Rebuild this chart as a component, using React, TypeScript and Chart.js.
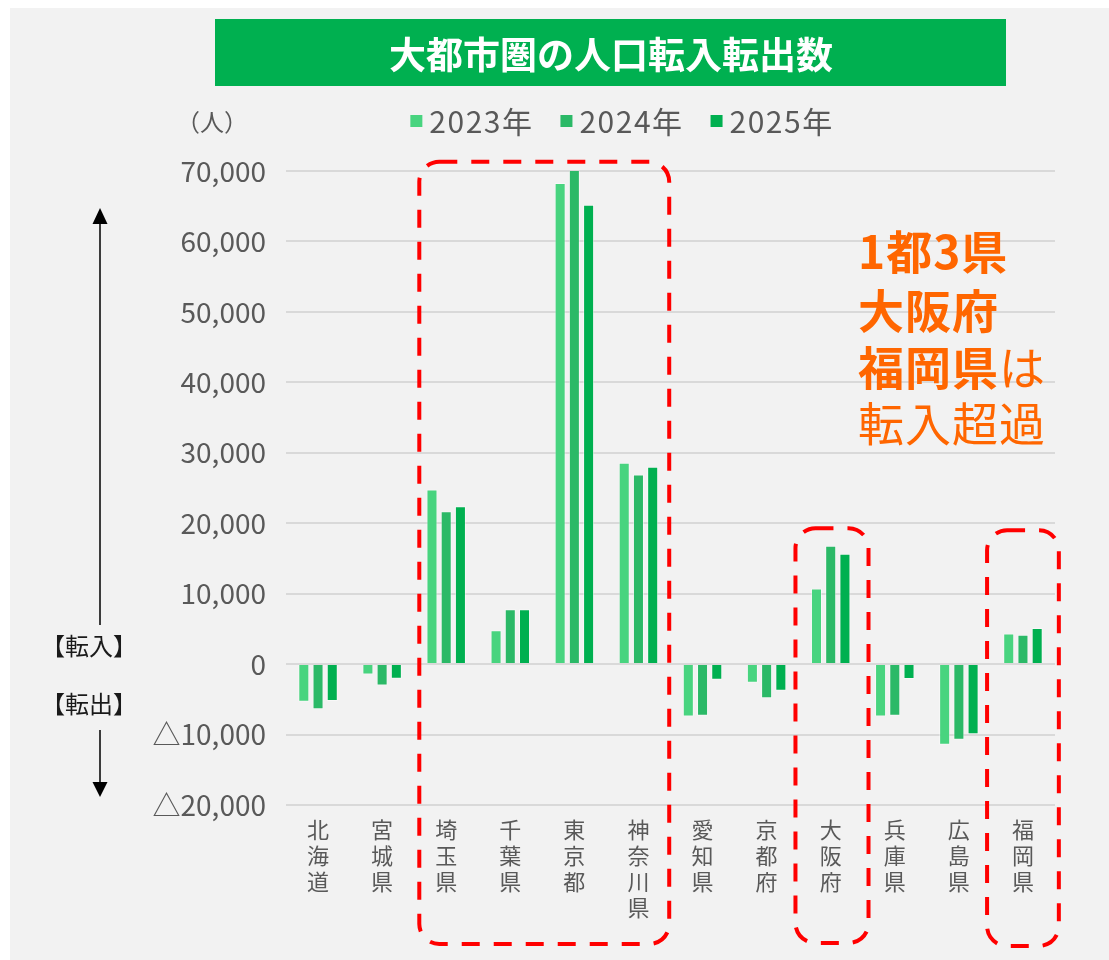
import React, { useEffect, useRef } from "react";
import { Chart, registerables } from "chart.js";

Chart.register(...registerables);

const categories = ["北海道", "宮城県", "埼玉県", "千葉県", "東京都", "神奈川県", "愛知県", "京都府", "大阪府", "兵庫県", "広島県", "福岡県"];
const seriesLabels = ["2023年", "2024年", "2025年"];
const values2023 = [-5350, -1460, 24800, 4790, 68300, 28600, -7430, -2650, 10750, -7430, -11450, 4360];
const values2024 = [-6400, -3030, 21700, 7800, 70200, 26900, -7330, -4830, 16800, -7330, -10740, 4170];
const values2025 = [-5250, -2080, 22400, 7800, 65200, 28000, -2220, -3790, 15680, -2130, -9940, 5110];
const yMin = -20000;
const yMax = 70000;
const yStep = 10000;
const titleText = "大都市圏の人口転入転出数";
const unitText = "（人）";
const inText = "【転入】";
const outText = "【転出】";
// highlighted category ranges [from, to] and the value at which their box starts
const highlightFrom = [2, 8, 11];
const highlightTo = [5, 8, 11];
const highlightTopValue = [71300, 19300, 19000];

const seriesColors = ["#48D47F", "#2BB967", "#00B050"];
const FONT = "'Noto Sans CJK JP', 'Noto Sans', sans-serif";

const decoPlugin = {
  id: "deco",
  beforeDraw(chart: any) {
    const ctx = chart.ctx;
    ctx.save();
    ctx.fillStyle = "#ffffff";
    ctx.fillRect(0, 0, chart.width, chart.height);
    ctx.fillStyle = "#F2F2F2";
    ctx.fillRect(10, 8, chart.width - 10, chart.height - 8);
    // title box
    ctx.fillStyle = "#00B050";
    ctx.fillRect(215, 19, 791, 67);
    ctx.fillStyle = "#ffffff";
    ctx.font = `bold 37px ${FONT}`;
    ctx.textAlign = "center";
    ctx.textBaseline = "middle";
    ctx.fillText(titleText, 611, 55);
    // unit
    ctx.fillStyle = "#595959";
    ctx.font = `24px ${FONT}`;
    ctx.fillText(unitText, 212, 122);
    // legend
    ctx.font = `30px ${FONT}`;
    (ctx as any).letterSpacing = "1.5px";
    const widths = seriesLabels.map((l) => ctx.measureText(l).width);
    const box = 12, gapBT = 7, gapItem = 27;
    let total = 0;
    widths.forEach((w, i) => { total += box + gapBT + w + (i < widths.length - 1 ? gapItem : 0); });
    let x = 622 - total / 2;
    ctx.textAlign = "left";
    seriesLabels.forEach((l, i) => {
      ctx.fillStyle = seriesColors[i];
      ctx.fillRect(x, 115, box, box);
      ctx.fillStyle = "#595959";
      ctx.fillText(l, x + box + gapBT, 122);
      x += box + gapBT + widths[i] + gapItem;
    });
    (ctx as any).letterSpacing = "0px";
    // arrows and side labels
    ctx.strokeStyle = "#000000";
    ctx.fillStyle = "#000000";
    ctx.lineWidth = 1.5;
    ctx.beginPath();
    ctx.moveTo(100, 222);
    ctx.lineTo(100, 625);
    ctx.moveTo(100, 730);
    ctx.lineTo(100, 784);
    ctx.stroke();
    ctx.beginPath();
    ctx.moveTo(100, 208);
    ctx.lineTo(92.5, 224);
    ctx.lineTo(107.5, 224);
    ctx.closePath();
    ctx.fill();
    ctx.beginPath();
    ctx.moveTo(100, 797);
    ctx.lineTo(92.5, 782);
    ctx.lineTo(107.5, 782);
    ctx.closePath();
    ctx.fill();
    ctx.font = `24px ${FONT}`;
    ctx.textAlign = "center";
    ctx.fillStyle = "#1a1a1a";
    ctx.fillText(inText, 89, 646);
    ctx.fillText(outText, 89, 704);
    ctx.restore();
  },
  afterDraw(chart: any) {
    const ctx = chart.ctx;
    const xs = chart.scales.x;
    const ys = chart.scales.y;
    const area = chart.chartArea;
    const step = (area.right - area.left) / categories.length;
    ctx.save();
    ctx.strokeStyle = "#FF0000";
    ctx.lineWidth = 4;
    ctx.setLineDash([18, 14]);
    const padL = [0.42, 0.55, 0.56];
    const padR = [0.48, 0.59, 0.56];
    const bottoms = [139, 138, 141];
    highlightFrom.forEach((f, i) => {
      const left = xs.getPixelForValue(f) - padL[i] * step;
      const right = xs.getPixelForValue(highlightTo[i]) + padR[i] * step;
      const top = ys.getPixelForValue(highlightTopValue[i]);
      const bottom = area.bottom + bottoms[i];
      ctx.beginPath();
      (ctx as any).roundRect(left, top, right - left, bottom - top, 20);
      ctx.stroke();
    });
    ctx.setLineDash([]);
    // orange annotation
    ctx.fillStyle = "#FF6600";
    ctx.textAlign = "left";
    ctx.textBaseline = "middle";
    const tx = 858;
    ctx.font = `bold 46px ${FONT}`;
    (ctx as any).letterSpacing = "1px";
    ctx.fillText("1都3県", tx, 252);
    ctx.fillText("大阪府", tx, 311);
    ctx.fillText("福岡県", tx, 368);
    const w = ctx.measureText("福岡県").width;
    ctx.font = `46px ${FONT}`;
    ctx.fillText("は", tx + w, 368);
    ctx.fillText("転入超過", tx, 424);
    (ctx as any).letterSpacing = "0px";
    ctx.restore();
  },
};

export default function App() {
  const ref = useRef<HTMLCanvasElement | null>(null);
  useEffect(() => {
    if (!ref.current) return;
    const chart = new Chart(ref.current, {
      type: "bar",
      data: {
        labels: categories,
        datasets: [values2023, values2024, values2025].map((vals, i) => ({
          label: seriesLabels[i],
          data: vals,
          backgroundColor: seriesColors[i],
          borderColor: "rgba(255,255,255,0.45)",
          borderWidth: 1,
          categoryPercentage: 0.666,
          barPercentage: 0.775,
        })),
      },
      options: {
        responsive: false,
        animation: false,
        layout: { padding: { left: 10, top: 171, right: 54, bottom: 0 } },
        plugins: {
          legend: { display: false },
          title: { display: false },
          tooltip: { enabled: false },
        },
        scales: {
          x: {
            grid: { display: false, drawTicks: false },
            border: { display: false },
            afterFit: (s: any) => { s.height = 155; },
            ticks: {
              autoSkip: false,
              maxRotation: 0,
              minRotation: 0,
              padding: 12,
              color: "#595959",
              font: { family: FONT, size: 22, lineHeight: "26px" } as any,
              callback: (_v: any, i: number) => categories[i].split(""),
            },
          },
          y: {
            min: yMin,
            max: yMax,
            afterFit: (s: any) => { s.width = 276; },
            grid: { color: "#D9D9D9", lineWidth: 2, drawTicks: false },
            border: { display: false },
            ticks: {
              stepSize: yStep,
              padding: 20,
              color: "#595959",
              font: { family: FONT, size: 28 },
              callback: (v: any) => {
                const n = Number(v);
                const s = Math.abs(n).toLocaleString("en-US");
                return n < 0 ? "△" + s : s;
              },
            },
          },
        },
      },
      plugins: [decoPlugin],
    });
    return () => chart.destroy();
  }, []);
  return (
    <div style={{ position: "absolute", left: 0, top: 0, width: 1109, height: 960 }}>
      <canvas ref={ref} width={1109} height={960} style={{ display: "block" }} />
    </div>
  );
}
